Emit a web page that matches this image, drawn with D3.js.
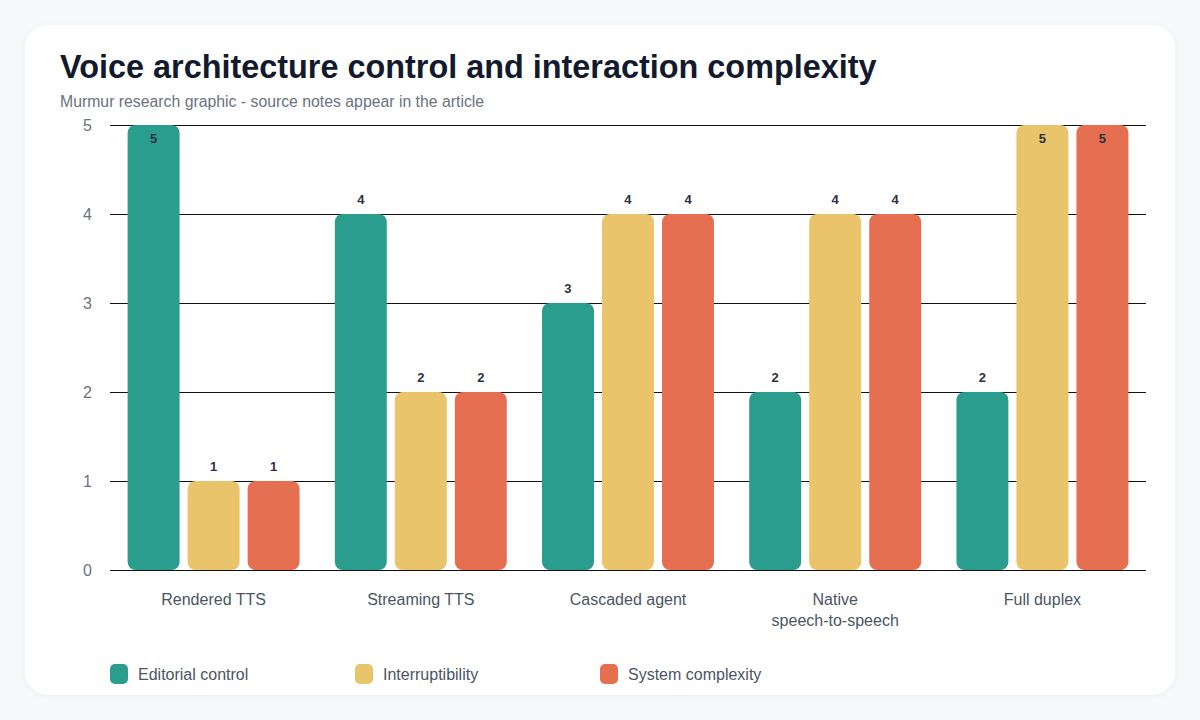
<!DOCTYPE html>
<html>
<head>
<meta charset="utf-8">
<script src="https://cdn.jsdelivr.net/npm/d3@7"></script>
<style>
  html, body { margin: 0; padding: 0; background: #f6f8fa; }
  body { width: 1200px; height: 720px; overflow: hidden; font-family: "Liberation Sans", Arial, sans-serif; }
</style>
</head>
<body>
<div id="chart"></div>
<script>
const categories = [["Rendered TTS"], ["Streaming TTS"], ["Cascaded agent"], ["Native", "speech-to-speech"], ["Full duplex"]];
const seriesNames = ["Editorial control", "Interruptibility", "System complexity"];
const editorialControl = [5, 4, 3, 2, 2];
const interruptibility = [1, 2, 4, 4, 5];
const systemComplexity = [1, 2, 4, 4, 5];
const yTicks = [0, 1, 2, 3, 4, 5];
const colors = ["#2a9d8f", "#e9c46a", "#e76f51"];

const width = 1200, height = 720;
const margin = { left: 110, right: 54, top: 125, bottom: 150 };
const seriesValues = [editorialControl, interruptibility, systemComplexity];

const svg = d3.select("#chart").append("svg")
    .attr("width", width)
    .attr("height", height);

// card
const defs = svg.append("defs");
const f = defs.append("filter").attr("id", "shadow").attr("x", "-5%").attr("y", "-5%").attr("width", "110%").attr("height", "110%");
f.append("feDropShadow").attr("dx", 0).attr("dy", 1).attr("stdDeviation", 3).attr("flood-color", "#0f172a").attr("flood-opacity", 0.04);

svg.append("rect")
    .attr("x", 25).attr("y", 25)
    .attr("width", 1150).attr("height", 670)
    .attr("rx", 24)
    .attr("fill", "#ffffff")
    .attr("filter", "url(#shadow)");

// title
svg.append("text")
    .attr("x", 60).attr("y", 78)
    .style("font-size", "32.4px")
    .style("font-weight", "bold")
    .attr("fill", "#141a2e")
    .text("Voice architecture control and interaction complexity");

svg.append("text")
    .attr("x", 60).attr("y", 107)
    .style("font-size", "15.8px")
    .attr("fill", "#6b7280")
    .text("Murmur research graphic - source notes appear in the article");

const x0 = d3.scaleBand()
    .domain(d3.range(categories.length))
    .range([margin.left, width - margin.right])
    .paddingInner(0.17)
    .paddingOuter(0.085);

const x1 = d3.scaleBand()
    .domain(d3.range(seriesNames.length))
    .range([0, x0.bandwidth()])
    .paddingInner(0.134);

const y = d3.scaleLinear()
    .domain([0, 5])
    .range([height - margin.bottom, margin.top]);

// grid
const yAxis = d3.axisLeft(y)
    .tickValues(yTicks)
    .tickFormat(d3.format("d"))
    .tickSize(-(width - margin.left - margin.right))
    .tickPadding(18);

const gy = svg.append("g")
    .attr("transform", `translate(${margin.left},0)`)
    .call(yAxis);
gy.select(".domain").remove();
gy.selectAll(".tick line").attr("stroke", "#111").attr("stroke-width", 1);
gy.selectAll(".tick text")
    .attr("fill", "#6b7280")
    .style("font-size", "16px")
    .style("font-family", "Liberation Sans, Arial, sans-serif");

// bars
const groups = svg.append("g").selectAll("g")
    .data(categories)
    .join("g")
    .attr("transform", (d, i) => `translate(${x0(i)},0)`);

groups.selectAll("rect")
    .data((d, i) => seriesValues.map((s, k) => ({ k, v: s[i] })))
    .join("rect")
    .attr("x", d => x1(d.k))
    .attr("y", d => y(d.v))
    .attr("width", x1.bandwidth())
    .attr("height", d => y(0) - y(d.v))
    .attr("rx", 8)
    .attr("fill", d => colors[d.k]);

groups.selectAll("text.val")
    .data((d, i) => seriesValues.map((s, k) => ({ k, v: s[i] })))
    .join("text")
    .attr("class", "val")
    .attr("x", d => x1(d.k) + x1.bandwidth() / 2)
    .attr("y", d => Math.max(y(d.v) - 10, margin.top + 18))
    .attr("text-anchor", "middle")
    .style("font-size", "13px")
    .style("font-weight", "bold")
    .attr("fill", "#2d3142")
    .text(d => d.v);

// x labels
const xl = svg.append("g").selectAll("text")
    .data(categories)
    .join("text")
    .attr("x", (d, i) => x0(i) + x0.bandwidth() / 2)
    .attr("y", 605)
    .attr("text-anchor", "middle")
    .style("font-size", "16px")
    .attr("fill", "#4b5563");
xl.selectAll("tspan")
    .data(d => d)
    .join("tspan")
    .attr("x", function() { return this.parentNode.getAttribute("x"); })
    .attr("dy", (d, i) => i === 0 ? 0 : 21)
    .text(d => d);

// legend
const legend = svg.append("g").selectAll("g")
    .data(seriesNames)
    .join("g")
    .attr("transform", (d, i) => `translate(${110 + i * 245},664)`);
legend.append("rect")
    .attr("width", 18).attr("height", 20)
    .attr("rx", 5)
    .attr("fill", (d, i) => colors[i]);
legend.append("text")
    .attr("x", 28).attr("y", 16)
    .style("font-size", "16px")
    .attr("fill", "#4b5563")
    .text(d => d);
</script>
</body>
</html>
